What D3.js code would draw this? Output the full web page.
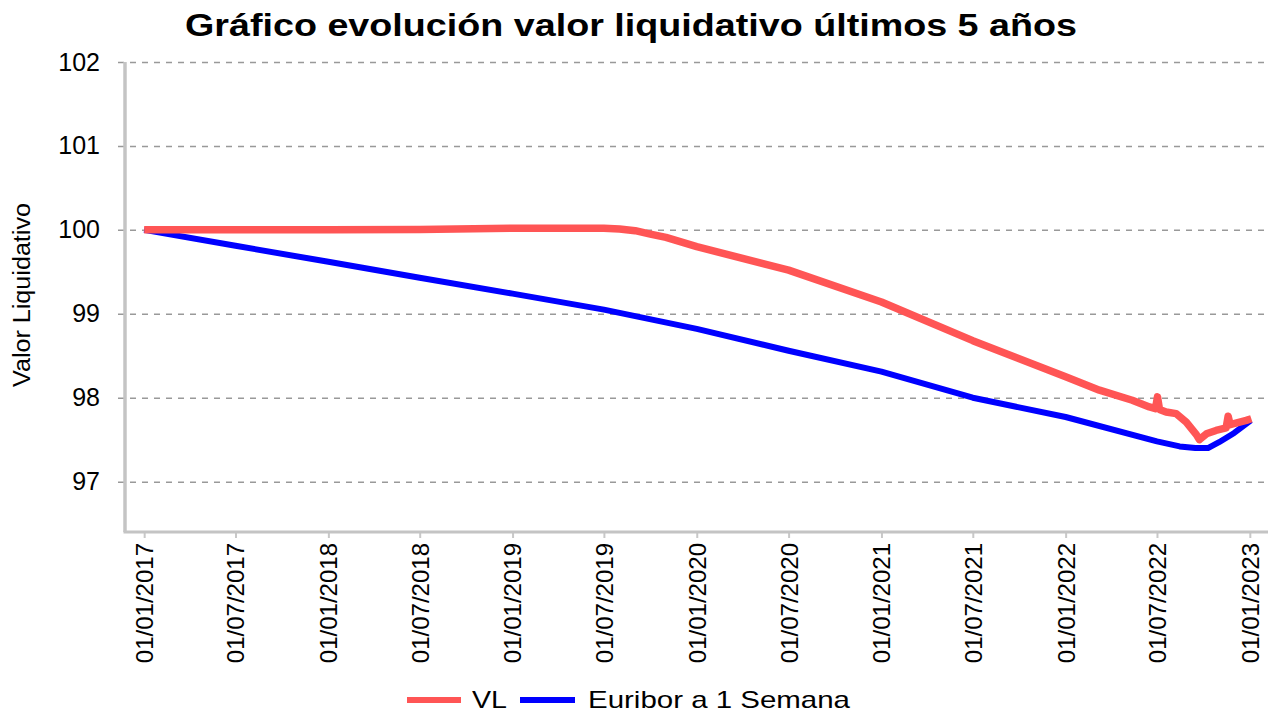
<!DOCTYPE html>
<html>
<head>
    <meta http-equiv="Content-Type" content="text/html; charset=UTF-8">
    <title>Gráfico evolución valor liquidativo</title>
    <style type="text/css">
        html, body {
            margin: 0;
            padding: 0;
            background: #ffffff;
        }

        svg text {
            font-family: "Liberation Sans", Arial, sans-serif;
            fill: #000000;
        }
    </style>
</head>
<body>
    <div id="chart"></div>
    <script src="https://cdn.jsdelivr.net/npm/d3@7/dist/d3.min.js"></script>
    <script>
        var titulo = "Gráfico evolución valor liquidativo últimos 5 años";
        var ejeY = "Valor Liquidativo";
        var series = ["VL", "Euribor a 1 Semana"];

        var fechasVL = ["2017-01-01", "2017-07-01", "2018-01-01", "2018-07-01", "2019-01-01", "2019-07-01",
            "2019-08-01", "2019-09-01", "2019-10-01", "2019-11-01", "2020-01-01", "2020-07-01", "2021-01-01",
            "2021-07-01", "2022-01-01", "2022-03-09", "2022-05-13", "2022-06-16", "2022-06-28", "2022-07-02",
            "2022-07-06", "2022-07-19", "2022-08-08", "2022-08-28", "2022-09-17", "2022-09-23", "2022-10-07",
            "2022-10-26", "2022-11-15", "2022-11-19", "2022-11-23", "2022-12-25", "2023-01-04"];
        var valoresVL = [100.00, 100.00, 100.00, 100.005, 100.02, 100.02,
            100.01, 99.99, 99.95, 99.91, 99.80, 99.52, 99.14,
            98.68, 98.25, 98.09, 97.97, 97.89, 97.87, 98.01,
            97.86, 97.83, 97.81, 97.71, 97.56, 97.50, 97.57,
            97.61, 97.64, 97.78, 97.68, 97.73, 97.75];

        var fechasEuribor = ["2017-01-01", "2017-07-01", "2018-01-01", "2018-07-01", "2019-01-01", "2019-07-01",
            "2020-01-01", "2020-07-01", "2021-01-01", "2021-07-01", "2022-01-01", "2022-07-01", "2022-08-15",
            "2022-09-15", "2022-10-10", "2022-11-01", "2022-12-01", "2023-01-03"];
        var valoresEuribor = [100.00, 99.81, 99.62, 99.43, 99.24, 99.05,
            98.82, 98.56, 98.31, 98.00, 97.77, 97.48, 97.42,
            97.40, 97.40, 97.47, 97.58, 97.73];

        var ticksY = [97, 98, 99, 100, 101, 102];
        var ticksX = ["2017-01-01", "2017-07-01", "2018-01-01", "2018-07-01", "2019-01-01", "2019-07-01",
            "2020-01-01", "2020-07-01", "2021-01-01", "2021-07-01", "2022-01-01", "2022-07-01", "2023-01-01"];

        var parse = d3.timeParse("%Y-%m-%d");
        var fmt = d3.timeFormat("%d/%m/%Y");

        var W = 1275, H = 715;
        var mLeft = 125, mRight = 1268, mTop = 62, mBottom = 532;

        var svg = d3.select("#chart").append("svg")
            .attr("width", W)
            .attr("height", H);

        var x = d3.scaleTime()
            .domain([parse("2016-11-24"), parse("2023-02-06")])
            .range([mLeft, mRight]);

        var y = d3.scaleLinear()
            .domain([96.4, 102])
            .range([mBottom, mTop]);

        // rejilla discontinua
        svg.append("g")
            .attr("transform", "translate(" + mLeft + ",0)")
            .call(d3.axisLeft(y).tickValues(ticksY).tickSize(-(mRight - mLeft + 7)).tickFormat(""))
            .call(function (g) {
                g.select(".domain").remove();
                g.selectAll("line")
                    .attr("transform", "translate(-7,0)")
                    .attr("stroke", "#999999")
                    .attr("stroke-width", 1.5)
                    .attr("stroke-dasharray", "6,6");
            });

        // etiquetas eje Y
        svg.append("g")
            .attr("transform", "translate(" + mLeft + ",0)")
            .call(d3.axisLeft(y).tickValues(ticksY).tickSize(0).tickPadding(25).tickFormat(d3.format("d")))
            .call(function (g) {
                g.select(".domain").remove();
                g.selectAll("text")
                    .attr("font-size", 25)
                    .attr("fill", "#000");
            });

        // eje X
        svg.append("g")
            .attr("transform", "translate(0," + mBottom + ")")
            .call(d3.axisBottom(x).tickValues(ticksX.map(parse)).tickSize(6).tickPadding(0).tickFormat(fmt))
            .call(function (g) {
                g.select(".domain").remove();
                g.selectAll("line")
                    .attr("stroke", "#c8c8c8")
                    .attr("stroke-width", 2);
                g.selectAll("text")
                    .attr("font-size", 24)
                    .attr("fill", "#000")
                    .attr("text-anchor", "end")
                    .attr("transform", "translate(0,11) rotate(-90)")
                    .attr("x", 0)
                    .attr("y", 0)
                    .attr("dy", "0.35em");
            });

        svg.append("line")
            .attr("x1", mLeft).attr("x2", mLeft)
            .attr("y1", mTop).attr("y2", mBottom)
            .attr("stroke", "#c4c4c4")
            .attr("stroke-width", 3.5);

        svg.append("line")
            .attr("x1", mLeft - 1.5).attr("x2", mRight)
            .attr("y1", mBottom).attr("y2", mBottom)
            .attr("stroke", "#c4c4c4")
            .attr("stroke-width", 3);

        var line = d3.line()
            .x(function (d) { return x(d[0]); })
            .y(function (d) { return y(d[1]); });

        var datosEuribor = fechasEuribor.map(function (f, i) { return [parse(f), valoresEuribor[i]]; });
        var datosVL = fechasVL.map(function (f, i) { return [parse(f), valoresVL[i]]; });

        svg.append("path")
            .datum(datosEuribor)
            .attr("d", line)
            .attr("fill", "none")
            .attr("stroke", "#0000ff")
            .attr("stroke-width", 6)
            .attr("stroke-linejoin", "round");

        svg.append("path")
            .datum(datosVL)
            .attr("d", line)
            .attr("fill", "none")
            .attr("stroke", "#ff5555")
            .attr("stroke-width", 7.5)
            .attr("stroke-linejoin", "round");

        // titulo
        svg.append("text")
            .attr("x", 631)
            .attr("y", 36)
            .attr("text-anchor", "middle")
            .attr("font-size", 32)
            .attr("font-weight", "bold")
            .attr("textLength", 892)
            .attr("lengthAdjust", "spacingAndGlyphs")
            .text(titulo);

        svg.append("text")
            .attr("transform", "translate(30,295) rotate(-90)")
            .attr("text-anchor", "middle")
            .attr("font-size", 23)
            .attr("textLength", 184)
            .attr("lengthAdjust", "spacingAndGlyphs")
            .text(ejeY);

        // leyenda
        var leyenda = [
            { nombre: series[0], color: "#ff5555", x1: 407, x2: 461, tx: 472, ancho: 35 },
            { nombre: series[1], color: "#0000ff", x1: 520, x2: 575, tx: 588, ancho: 262 }
        ];

        var lg = svg.append("g").selectAll("g").data(leyenda).enter().append("g");
        lg.append("line")
            .attr("x1", function (d) { return d.x1; })
            .attr("x2", function (d) { return d.x2; })
            .attr("y1", 700).attr("y2", 700)
            .attr("stroke", function (d) { return d.color; })
            .attr("stroke-width", 6);
        lg.append("text")
            .attr("x", function (d) { return d.tx; })
            .attr("y", 708)
            .attr("font-size", 24)
            .attr("textLength", function (d) { return d.ancho; })
            .attr("lengthAdjust", "spacingAndGlyphs")
            .text(function (d) { return d.nombre; });
    </script>
</body>
</html>
